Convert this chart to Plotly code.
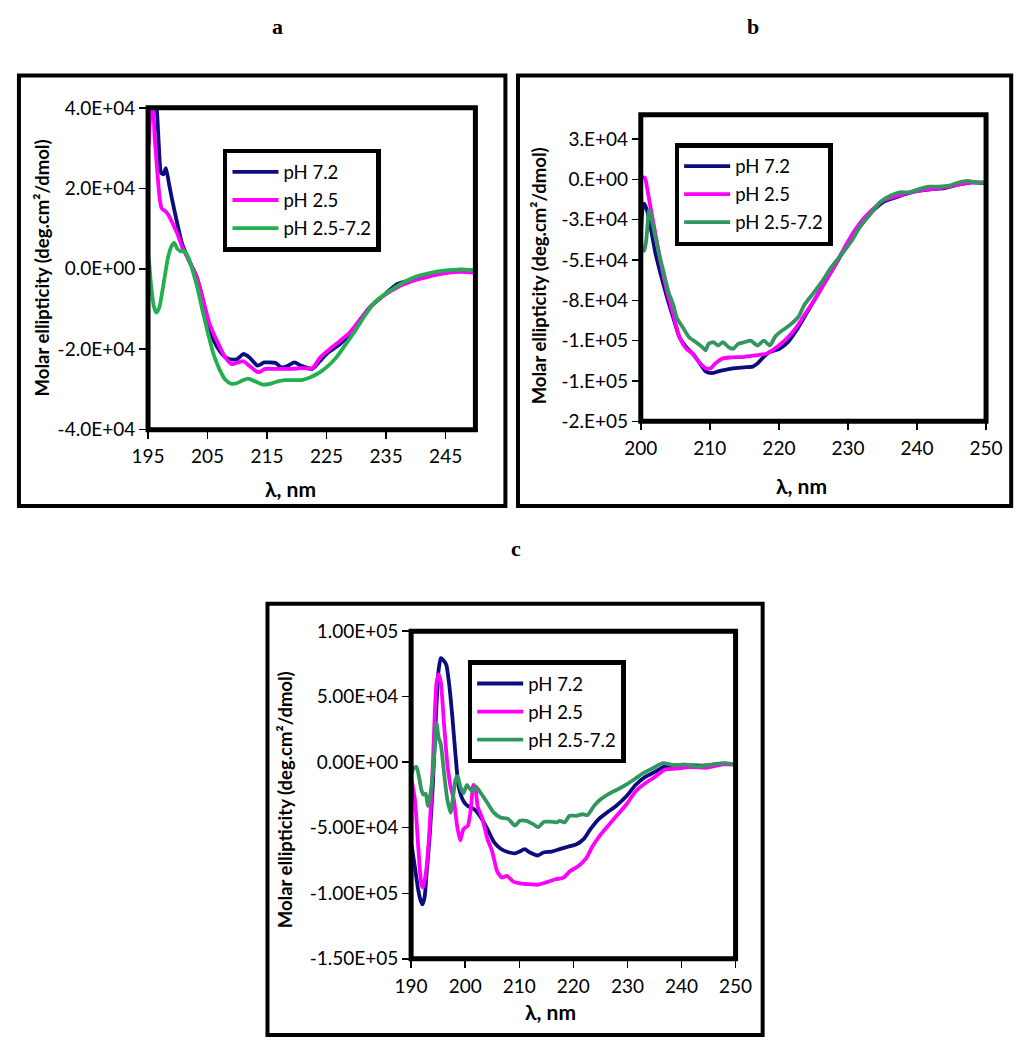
import plotly.graph_objects as go

# ---------------- DATA ----------------
series_names = ["pH 7.2", "pH 2.5", "pH 2.5-7.2"]

# Panel a
a_wl_blue = [195.2, 195.6, 196.0, 196.4, 196.8, 197.2, 197.6, 198.0, 198.5, 199.0, 199.8, 200.7, 201.8, 203.1, 204.2,
             205.0, 206.1, 207.2, 208.0, 208.8, 209.9, 210.5, 211.0, 212.0, 213.4, 214.5, 215.5, 216.4, 217.4, 218.5,
             219.6, 220.7, 222.6, 223.9, 225.3, 227.2, 228.8, 230.4, 232.3, 234.2, 236.9, 239.6, 241.2, 243.4, 245.5,
             247.7, 250.0]
a_blue = [37000, 40500, 42000, 40500, 31000, 23800, 23500, 25000, 21300, 17500, 12000, 6300, 2300, -1800, -7500,
          -13100, -18000, -20800, -22000, -22500, -22500, -21800, -21200, -22000, -24100, -23300, -23300, -23400, -24500,
          -24100, -23300, -24100, -24900, -22900, -20800, -18800, -16400, -13100, -9500, -7100, -3800, -2600, -1800,
          -1100, -500, -200, -400]

a_wl_pink = [195.15, 195.5, 195.8, 196.1, 196.5, 197.0, 197.3, 198.0, 198.5, 199.1, 199.9, 200.7, 201.8, 203.1, 204.2,
             205.3, 206.6, 208.0, 209.1, 210.1, 211.0, 212.0, 213.0, 213.6, 214.7, 216.4, 219.1, 220.7, 222.6, 223.9,
             225.5, 227.2, 228.8, 230.4, 232.3, 234.2, 236.9, 239.6, 242.3, 245.0, 247.7, 250.0]
a_pink = [30700, 39400, 40000, 33000, 25000, 17000, 15000, 14200, 13200, 11400, 8800, 5500, 2300, -1800, -7500,
          -13500, -18000, -22100, -23700, -23300, -23000, -24100, -25300, -25700, -24900, -24900, -24900, -24700,
          -24700, -22100, -20000, -18000, -16000, -13100, -9500, -7100, -4600, -3000, -1900, -1100, -800, -1000]

a_wl_green = [195.15, 195.5, 196.0, 196.4, 196.9, 197.3, 197.8, 198.4, 199.0, 199.4, 199.9, 200.5, 201.1, 201.8, 202.5,
              203.3, 204.2, 205.0, 206.0, 207.0, 208.0, 209.0, 210.0, 210.8, 211.8, 213.0, 214.3, 215.5, 216.8, 218.0,
              219.5, 221.0, 222.3, 223.9, 225.3, 226.6, 228.2, 229.9, 231.5, 233.1, 235.3, 237.4, 239.6, 242.3, 245.0,
              247.7, 250.0]
a_green = [2300, -4000, -9500, -10900, -9600, -6500, -2000, 3100, 5800, 6400, 5000, 4300, 4400, 2700, -500,
           -4800, -10700, -15600, -21200, -25000, -27600, -28600, -28400, -27800, -27300, -28000, -28800, -28600,
           -28000, -27700, -27700, -27600, -27000, -25700, -24100, -22100, -18800, -15200, -11500, -8300, -5800,
           -3800, -2200, -1100, -400, -200, -300]

a_xticks = [195, 205, 215, 225, 235, 245]
a_yticks = [-40000, -20000, 0, 20000, 40000]
a_ytext = ["-4.0E+04", "-2.0E+04", "0.0E+00", "2.0E+04", "4.0E+04"]

# Panel b
b_wl_blue = [200.0, 200.3, 200.5, 200.9, 201.4, 202.1, 202.8, 203.7, 204.7, 205.6, 206.6, 207.5, 208.4, 209.4, 210.3,
             211.2, 212.2, 213.6, 215.0, 216.2, 216.9, 217.8, 218.7, 220.1, 221.3, 222.5, 223.9, 225.3, 226.7, 228.1,
             229.5, 230.9, 232.3, 233.7, 235.1, 236.6, 238.4, 240.3, 242.2, 244.0, 245.9, 247.8, 250.0]
b_blue = [-35000, -17000, -15100, -19200, -29300, -45400, -57500, -71700, -85800, -97900, -104000, -108000, -113100,
          -119100, -120100, -119100, -118100, -117100, -116500, -116100, -114100, -110000, -107000, -105000, -101000,
          -93900, -83800, -73700, -63600, -53500, -43400, -34300, -26200, -19200, -14100, -11700, -9100, -7100, -6100,
          -5500, -3400, -2000, -2600]

b_wl_pink = [200.0, 200.2, 200.6, 200.9, 201.4, 202.1, 202.8, 203.7, 204.7, 205.6, 206.6, 207.5, 208.4, 209.4, 210.1,
             210.8, 211.9, 213.1, 215.0, 216.9, 218.3, 219.7, 221.1, 222.5, 223.9, 225.3, 226.7, 228.1, 229.5, 230.9,
             232.3, 233.7, 235.1, 236.6, 238.4, 240.3, 242.2, 244.0, 245.9, 247.8, 250.0]
b_pink = [-2000, 1000, 1000, -5000, -17200, -33300, -49500, -67600, -83800, -97900, -105000, -108000, -113100,
          -117100, -117100, -114100, -111000, -110400, -110000, -109000, -108000, -104000, -98900, -91900, -82800,
          -73700, -63600, -53500, -42400, -32300, -24200, -18200, -13100, -11100, -8700, -7100, -6100, -5000, -3400,
          -2000, -2000]

b_wl_green = [200.0, 200.1, 200.5, 200.8, 201.2, 201.4, 201.9, 202.6, 203.3, 204.0, 204.7, 205.2, 206.1, 207.0, 208.0,
              208.9, 209.4, 209.8, 210.5, 211.2, 211.9, 212.7, 213.4, 214.1, 215.0, 215.9, 216.9, 217.8, 218.7, 219.4,
              220.1, 221.1, 222.0, 222.9, 223.7, 224.8, 226.2, 227.6, 229.1, 230.5, 231.9, 233.3, 234.7, 236.2, 237.5,
              238.9, 240.3, 241.8, 243.2, 244.6, 246.0, 247.3, 248.7, 250.0]
b_green = [-57500, -41400, -44400, -37400, -19200, -21200, -31300, -45400, -57500, -69700, -77700, -85800, -91900,
           -97900, -101000, -104000, -106000, -102000, -101000, -103000, -101000, -104000, -105000, -102000, -101000,
           -100000, -103000, -100000, -103000, -97900, -94900, -91900, -88800, -84800, -77700, -71700, -63600, -54500,
           -46400, -38400, -28300, -21200, -14100, -10100, -8100, -8100, -6100, -4600, -4600, -4000, -2000, -1000,
           -2000, -2000]

b_xticks = [200, 210, 220, 230, 240, 250]
b_yticks = [-150000, -125000, -100000, -75000, -50000, -25000, 0, 25000]
b_ytext = ["-2.E+05", "-1.E+05", "-1.E+05", "-8.E+04", "-5.E+04", "-3.E+04", "0.E+00", "3.E+04"]

# Panel c
c_wl_blue = [190.1, 190.7, 191.3, 191.8, 192.1, 192.5, 192.8, 193.4, 194.0, 194.6, 195.1, 195.5, 195.9, 196.5, 197.0,
             197.6, 198.2, 198.8, 199.7, 200.5, 201.7, 202.9, 204.1, 205.3, 206.5, 208.0, 209.2, 210.1, 211.0, 211.9,
             213.4, 214.6, 216.0, 217.5, 219.0, 220.5, 222.0, 223.2, 224.7, 226.2, 228.0, 229.8, 231.5, 233.3, 235.1,
             236.9, 238.7, 241.6, 244.6, 247.6, 249.7]
c_blue = [-63300, -80000, -97000, -106000, -108500, -103000, -88100, -58300, -18600, 36000, 70700, 79400, 78200, 74400,
          60800, 36000, 6200, -18600, -29800, -33500, -36000, -42200, -50900, -60800, -65800, -68700, -69500, -68200,
          -66300, -68700, -71200, -68700, -68200, -66300, -64500, -62800, -58300, -50900, -43400, -38500, -33000,
          -26000, -17400, -11200, -7400, -3200, -2500, -2500, -2500, -1200, -1700]

c_wl_pink = [190.1, 190.7, 191.3, 191.9, 192.2, 192.7, 193.3, 193.9, 194.3, 194.7, 195.1, 195.5, 196.1, 196.7, 197.3,
             197.9, 198.5, 199.1, 199.7, 200.5, 201.1, 201.5, 201.9, 202.3, 203.2, 204.1, 205.0, 205.9, 206.8, 207.7,
             208.9, 210.4, 211.9, 213.4, 214.9, 216.7, 218.2, 219.4, 220.9, 222.4, 223.5, 224.7, 226.2, 228.0, 229.8,
             231.5, 233.3, 235.1, 236.9, 238.7, 241.6, 244.6, 247.6, 249.7]
c_pink = [-13600, -28500, -63300, -93100, -95500, -85600, -58300, -13600, 28500, 60800, 67000, 60800, 28500, -1200,
          -18600, -28500, -48400, -59600, -50900, -48400, -33500, -17400, -19900, -33500, -43400, -58300, -68200,
          -83100, -88100, -86800, -91100, -92600, -93100, -93500, -91800, -89300, -88100, -83100, -79400, -73200,
          -64500, -57100, -49600, -40900, -32300, -22300, -16100, -11200, -5700, -5000, -3700, -4200, -1700, -1700]

c_wl_green = [190.1, 190.5, 191.0, 191.5, 191.9, 192.3, 192.7, 193.1, 193.6, 194.0, 194.5, 194.7, 195.1, 195.5, 196.1,
              196.7, 197.3, 197.7, 198.2, 198.6, 199.1, 199.7, 200.3, 200.8, 201.4, 202.0, 202.9, 204.1, 205.3, 206.5,
              208.0, 209.2, 210.1, 211.3, 212.5, 213.5, 214.6, 215.7, 216.9, 217.5, 218.4, 219.3, 220.5, 221.7, 222.6,
              223.8, 225.0, 226.8, 228.6, 230.0, 231.5, 233.0, 234.5, 236.6, 238.7, 240.5, 242.9, 244.6, 246.4, 248.2,
              249.7]
c_green = [-8700, -4500, -3700, -12000, -21100, -24800, -24000, -33500, -23600, -8700, 18600, 29800, 18600, 13600,
           -8700, -28500, -38500, -28500, -13600, -10700, -18600, -23600, -17400, -19900, -22300, -18600, -23600,
           -31000, -38500, -42200, -43400, -48400, -44700, -44700, -47100, -49600, -45400, -45400, -45900, -44700,
           -45900, -40900, -40900, -39700, -40400, -33500, -28500, -23600, -19900, -16600, -12400, -8200, -5000, -700,
           -2500, -1700, -3200, -2500, -1200, -700, -1700]

c_xticks = [190, 200, 210, 220, 230, 240, 250]
c_yticks = [-150000, -100000, -50000, 0, 50000, 100000]
c_ytext = ["-1.50E+05", "-1.00E+05", "-5.00E+04", "0.00E+00", "5.00E+04", "1.00E+05"]

# ---------------- STYLE ----------------
W, H = 1034, 1050
FONT = "Lato"
BLUE = "#0c0c7e"
PINK = "#ff00ff"
GREEN_A = "#22b04e"
GREEN_BC = "#33965e"


def px(x):
    return x / W


def py(y):
    return 1 - y / H


fig = go.Figure()

panels = [
    dict(key="", legend="legend", green=GREEN_A,
         data=[(a_wl_blue, a_blue), (a_wl_pink, a_pink), (a_wl_green, a_green)]),
    dict(key="2", legend="legend2", green=GREEN_BC,
         data=[(b_wl_blue, b_blue), (b_wl_pink, b_pink), (b_wl_green, b_green)]),
    dict(key="3", legend="legend3", green=GREEN_BC,
         data=[(c_wl_blue, c_blue), (c_wl_pink, c_pink), (c_wl_green, c_green)]),
]

for p in panels:
    colors = [BLUE, PINK, p["green"]]
    for i, (wl, vals) in enumerate(p["data"]):
        fig.add_trace(go.Scatter(
            x=wl, y=vals, mode="lines", name=series_names[i],
            line=dict(color=colors[i], width=3.8, shape="spline", smoothing=0.6),
            xaxis="x" + p["key"], yaxis="y" + p["key"],
            legend=p["legend"], legendgroup=p["legend"] + str(i),
            showlegend=True,
        ))

tickfont = dict(family=FONT, size=19, color="black")


def xax(domain, rng, vals, anchor):
    return dict(domain=domain, range=rng, tickmode="array", tickvals=vals,
                ticktext=[str(v) for v in vals], ticks="outside", ticklen=8, tickwidth=1.5,
                tickcolor="black", showgrid=False, zeroline=False, showline=False,
                tickfont=tickfont, ticklabelstandoff=2, anchor=anchor, fixedrange=True)


def yax(domain, rng, vals, text, anchor):
    return dict(domain=domain, range=rng, tickmode="array", tickvals=vals, ticktext=text,
                ticks="outside", ticklen=8, tickwidth=1.5, tickcolor="black", showgrid=False,
                zeroline=False, showline=False, tickfont=tickfont, ticklabelstandoff=0,
                anchor=anchor, fixedrange=True)


legend_common = dict(bgcolor="white", bordercolor="black", borderwidth=4.5,
                     font=dict(family=FONT, size=18.5, color="black"), itemwidth=46,
                     tracegroupgap=1, xanchor="left", yanchor="top", traceorder="grouped",
                     itemclick=False, itemdoubleclick=False)

fig.update_layout(
    width=W, height=H, margin=dict(l=0, r=0, t=0, b=0),
    paper_bgcolor="white", plot_bgcolor="white",
    xaxis=xax([px(135.5), px(474)], [195, 250], a_xticks, "y"),
    yaxis=yax([py(427), py(98)], [-40000, 40000], a_yticks, a_ytext, "x"),
    xaxis2=xax([px(645), px(1002)], [200, 250], b_xticks, "y2"),
    yaxis2=yax([py(418.5), py(105)], [-150000, 40000], b_yticks, b_ytext, "x2"),
    xaxis3=xax([px(407.5), px(743)], [190, 250], c_xticks, "y3"),
    yaxis3=yax([py(968), py(633)], [-150000, 100000], c_yticks, c_ytext, "x3"),
    legend=dict(legend_common, x=px(213), y=py(140)),
    legend2=dict(legend_common, x=px(680), y=py(134)),
    legend3=dict(legend_common, x=px(466), y=py(663)),
    showlegend=True,
)

shapes = []
# panel outer boxes
for (x0, y0, x1, y1) in [(2, 65, 505, 505), (518, 65, 1028, 505), (259, 605, 771, 1046)]:
    shapes.append(dict(type="rect", xref="paper", yref="paper", x0=px(x0), x1=px(x1), y0=py(y1), y1=py(y0),
                       line=dict(color="black", width=4), layer="above"))
# plot-area frames
for k in ["", "2", "3"]:
    shapes.append(dict(type="rect", xref="x" + k + " domain", yref="y" + k + " domain", x0=0, x1=1, y0=0, y1=1,
                       line=dict(color="black", width=5), layer="above"))
fig.update_layout(shapes=shapes)

ytitle = "<b>Molar ellipticity (deg.cm²/dmol)</b>"
xtitle = "<b>λ, nm</b>"
ann = []
for (x, y) in [(26, 262), (540, 270), (278, 805)]:
    ann.append(dict(text=ytitle, x=px(x), y=py(y), xref="paper", yref="paper", showarrow=False,
                    textangle=-90, font=dict(family=FONT, size=18.5, color="black"),
                    xanchor="center", yanchor="middle"))
for (x, y) in [(283, 487), (811, 484), (552, 1022)]:
    ann.append(dict(text=xtitle, x=px(x), y=py(y), xref="paper", yref="paper", showarrow=False,
                    font=dict(family=FONT, size=21, color="black"), xanchor="center", yanchor="middle"))
for (t, x, y) in [("a", 269, 15), ("b", 761, 15), ("c", 516, 549)]:
    ann.append(dict(text="<b>" + t + "</b>", x=px(x), y=py(y), xref="paper", yref="paper", showarrow=False,
                    font=dict(family="Liberation Serif", size=22, color="black"),
                    xanchor="center", yanchor="middle"))
fig.update_layout(annotations=ann)

fig.write_html("out.html", config={"displayModeBar": False, "staticPlot": True},
               post_script="document.body.style.margin='0';document.body.style.overflow='hidden';")
